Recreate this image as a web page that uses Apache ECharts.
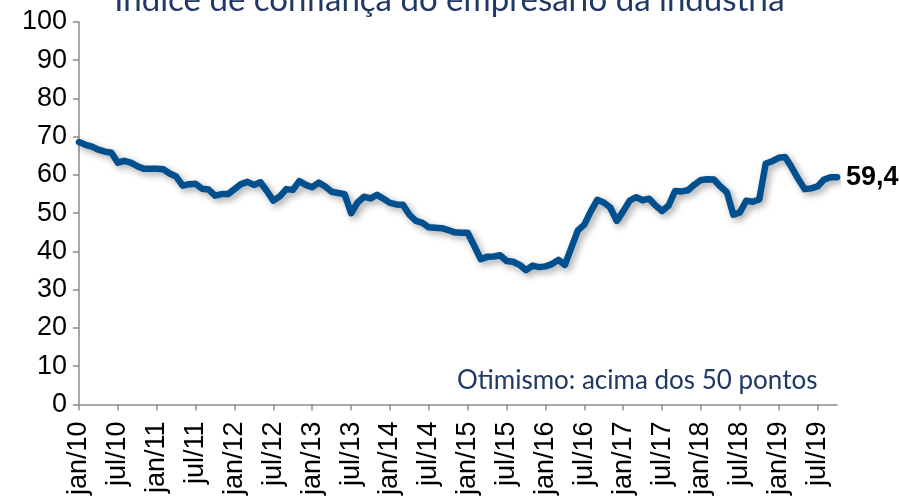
<!DOCTYPE html>
<html>
<head>
<meta charset="utf-8">
<script src="https://cdn.jsdelivr.net/npm/echarts@6/dist/echarts.min.js"></script>
<style>
html,body{margin:0;padding:0;background:#fff;}
#chart{width:899px;height:498px;}
</style>
</head>
<body>
<div id="chart"></div>
<script>
// Month names and years used to build the category labels
var monthNames = ['jan','fev','mar','abr','mai','jun','jul','ago','set','out','nov','dez'];
var startYear = 2010;
var pointCount = 118; // jan/10 .. out/19

// ICEI values
var icei = [
  68.6, 67.9, 67.4, 66.6, 66.1, 65.8, 63.2, 63.7, 63.2, 62.3, 61.6, 61.6,
  61.6, 61.5, 60.4, 59.6, 57.2, 57.6, 57.7, 56.4, 56.2, 54.6, 55.0, 55.0,
  56.3, 57.6, 58.2, 57.4, 58.1, 55.8, 53.3, 54.4, 56.3, 56.1, 58.4, 57.4,
  56.8, 58.0, 57.0, 55.6, 55.3, 55.0, 50.0, 52.8, 54.3, 53.9, 54.8, 53.8,
  52.7, 52.3, 52.2, 49.6, 48.0, 47.5, 46.3, 46.2, 46.1, 45.6, 45.0, 44.9,
  44.9, 41.5, 38.0, 38.6, 38.7, 39.0, 37.5, 37.3, 36.5, 35.1, 36.3, 35.9,
  36.1, 36.7, 37.8, 36.5, 41.0, 45.5, 47.0, 50.5, 53.5, 52.8, 51.5, 48.0,
  50.5, 53.3, 54.2, 53.4, 53.8, 52.0, 50.6, 52.0, 55.8, 55.7, 56.0, 57.5,
  58.7, 58.9, 58.8, 57.0, 55.5, 49.6, 50.2, 53.3, 53.0, 53.6, 63.0, 63.6,
  64.5, 64.7, 62.0, 59.0, 56.3, 56.5, 57.0, 58.8, 59.4, 59.4
];

var yTicks = [0, 10, 20, 30, 40, 50, 60, 70, 80, 90, 100];
var titleText = 'Índice de confiança do empresário da indústria';
var noteText = 'Otimismo: acima dos 50 pontos';

var categories = [];
for (var i = 0; i < pointCount; i++) {
  var m = i % 12, y = startYear + Math.floor(i / 12);
  categories.push(monthNames[m] + '/' + String(y).slice(2));
}

var chart = echarts.init(document.getElementById('chart'), null, {renderer: 'canvas'});
chart.setOption({
  animation: false,
  backgroundColor: '#ffffff',
  grid: {left: 79, right: 62, top: 22, bottom: 91, containLabel: false},
  graphic: [
    {type: 'text', left: 'center', top: -16, style: {text: titleText, font: '33px "Lato", "Noto Sans", sans-serif', fill: '#1F3864'}},
    {type: 'text', left: 457, top: 368, style: {text: noteText, font: '26px "Lato", "Noto Sans", sans-serif', fill: '#1F3864'}}
  ],
  xAxis: {
    type: 'category',
    data: categories,
    boundaryGap: false,
    axisLine: {lineStyle: {color: '#8C8C8C', width: 1.5}},
    axisTick: {show: true, length: 6, interval: 5, lineStyle: {color: '#8C8C8C', width: 1.5}},
    axisLabel: {interval: 5, rotate: 90, margin: 17, fontSize: 27, color: '#000', fontFamily: '"Liberation Sans", Arial, sans-serif'},
    splitLine: {show: false}
  },
  yAxis: {
    type: 'value',
    min: yTicks[0], max: yTicks[yTicks.length - 1], interval: 10,
    axisLine: {show: true, lineStyle: {color: '#8C8C8C', width: 1.5}},
    axisTick: {show: true, length: 6, lineStyle: {color: '#8C8C8C', width: 1.5}},
    axisLabel: {margin: 12, fontSize: 27, color: '#000', fontFamily: '"Liberation Sans", Arial, sans-serif'},
    splitLine: {show: false}
  },
  series: [{
    type: 'line',
    data: icei,
    symbol: 'none',
    smooth: false,
    lineStyle: {color: '#004F8F', width: 6.5, cap: 'round', join: 'round',
      shadowColor: 'rgba(0,0,0,0.35)', shadowBlur: 7, shadowOffsetX: 3, shadowOffsetY: 3},
    endLabel: {
      show: true, distance: 9,
      formatter: function (p) { return String(p.value.toFixed(1)).replace('.', ','); },
      fontSize: 27, fontWeight: 'bold', color: '#000', fontFamily: '"Liberation Sans", Arial, sans-serif'
    }
  }]
});
</script>
</body>
</html>
